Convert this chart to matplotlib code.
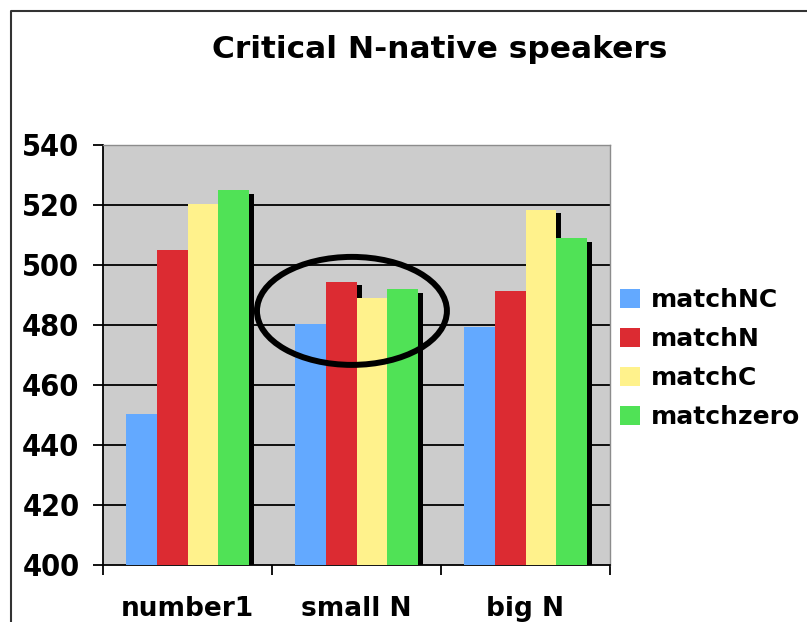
import matplotlib
matplotlib.use("Agg")
import matplotlib.pyplot as plt
from matplotlib.patches import Ellipse
from matplotlib.lines import Line2D
import numpy as np

# data
categories = ["number1", "small N", "big N"]
series = ["matchNC", "matchN", "matchC", "matchzero"]
matchNC = [450.5, 480.5, 479.5]
matchN = [505.0, 494.5, 491.5]
matchC = [520.5, 489.0, 518.5]
matchzero = [525.0, 492.0, 509.0]
yticks = [400, 420, 440, 460, 480, 500, 520, 540]

values = [matchNC, matchN, matchC, matchzero]
colors = ["#63a9ff", "#dc2b32", "#fff28c", "#50e256"]

plt.rcParams["font.family"] = "DejaVu Sans"

fig = plt.figure(figsize=(8.07, 6.22), dpi=100)
ax = fig.add_axes([103 / 807, 1 - 565 / 622, 507 / 807, 420 / 622])
ax.set_facecolor("#cccccc")

x = np.arange(len(categories))
w = 0.183
dx, dy = 0.03, 1.3

# gridlines
for t in yticks[1:-1]:
    ax.axhline(t, color="black", lw=1.3, zorder=1)

# shadows then bars
for i, vals in enumerate(values):
    pos = x + (i - 1.5) * w
    ax.bar(pos + dx, np.array(vals) - 400 - dy, bottom=400, width=w,
           color="black", zorder=2, linewidth=0)
for i, vals in enumerate(values):
    pos = x + (i - 1.5) * w
    ax.bar(pos, np.array(vals) - 400, bottom=400, width=w,
           color=colors[i], zorder=3, linewidth=0, label=series[i])

ax.set_xlim(-0.5, 2.5)
ax.set_ylim(400, 540)
ax.set_yticks(yticks)
ax.set_yticklabels([str(t) for t in yticks], fontsize=22, fontweight="bold",
                   fontstretch="condensed")
ax.set_xticks(x)
ax.set_xticklabels(categories, fontsize=19, fontweight="bold")
ax.tick_params(axis="x", length=0, pad=22)
ax.set_xticks([-0.5, 0.5, 1.5, 2.5], minor=True)
ax.tick_params(axis="x", which="minor", length=7, width=1.3, direction="out")
ax.tick_params(axis="y", length=7, width=1.3, direction="out", pad=10)

for s in ["left", "bottom"]:
    ax.spines[s].set_color("black")
    ax.spines[s].set_linewidth(1.3)
for s in ["top", "right"]:
    ax.spines[s].set_color("#8c8c8c")
    ax.spines[s].set_linewidth(1.0)

# circled group
ell = Ellipse((0.973, 484.7), 1.124, 36, fill=False, edgecolor="black",
              lw=4.3, zorder=5, clip_on=False)
ax.add_patch(ell)

fig.suptitle("Critical N-native speakers", x=0.545, y=1 - 50 / 622,
             va="center", fontsize=22.5, fontweight="bold")

fig.legend(loc="upper left", bbox_to_anchor=(597 / 807, 1 - 266 / 622),
           frameon=False, prop={"weight": "bold", "size": 18},
           handlelength=0.8, handleheight=0.8, handletextpad=0.45,
           labelspacing=0.6)

# outer chart border
fig.add_artist(Line2D([11 / 807, 11 / 807, 1.0], [0.0, 1 - 11 / 622, 1 - 11 / 622],
                      transform=fig.transFigure, color="#333333", lw=1.5))

fig.savefig("out.png", dpi=100)
